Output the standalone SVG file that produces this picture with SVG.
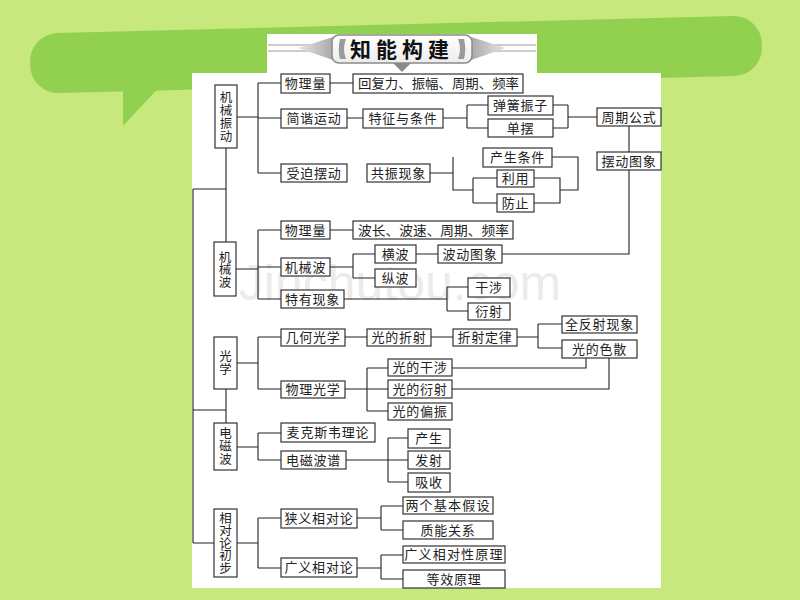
<svg xmlns="http://www.w3.org/2000/svg" width="800" height="600" viewBox="0 0 800 600">
<style>
.b{fill:#fff;stroke:#333;stroke-width:1.2}
.t{font-family:"Noto Sans CJK SC","Noto Sans",sans-serif;font-size:13px;fill:#222;text-anchor:middle;letter-spacing:0.8px}
.w{font-family:"Noto Sans CJK SC","Noto Sans",sans-serif;font-size:13px;fill:#222}
.v{font-family:"Noto Sans CJK SC","Noto Sans",sans-serif;font-size:12.5px;fill:#222;text-anchor:middle}
.c{fill:none;stroke:#222;stroke-width:1.1}
</style>
<defs>
<linearGradient id="wl" x1="0" x2="1" y1="0" y2="0"><stop offset="0" stop-color="#e6e6e6"/><stop offset="1" stop-color="#a9a9a9"/></linearGradient>
<linearGradient id="wr" x1="1" x2="0" y1="0" y2="0"><stop offset="0" stop-color="#e6e6e6"/><stop offset="1" stop-color="#a9a9a9"/></linearGradient>
<linearGradient id="tb" x1="0" x2="0" y1="0" y2="1"><stop offset="0" stop-color="#ffffff"/><stop offset="1" stop-color="#ececec"/></linearGradient>
</defs>
<rect width="800" height="600" fill="#c6e87c"/>
<g id="bubble">
<rect x="30" y="24.5" width="732" height="60" rx="28" fill="#92d050" transform="rotate(-1.45 396 54.5)"/>
<polygon points="123,84 123,126 162,84" fill="#92d050"/>
</g>
<path d="M267,34 H537 V73 H661 V588 H192 V73 H267 Z" fill="#fff"/>
<text x="400" y="300" font-family="Liberation Sans, Arial, sans-serif" font-size="50" fill="#ebebeb" text-anchor="middle">Jinchutou.com</text>
<g id="title">
<line x1="268" y1="45" x2="332" y2="45" stroke="#9a9a9a" stroke-width="1"/>
<line x1="268" y1="51" x2="332" y2="51" stroke="#9a9a9a" stroke-width="1"/>
<line x1="472" y1="45" x2="536" y2="45" stroke="#9a9a9a" stroke-width="1"/>
<line x1="472" y1="51" x2="536" y2="51" stroke="#9a9a9a" stroke-width="1"/>
<polygon points="298,48 333,37 333,60" fill="url(#wl)"/>
<polygon points="506,48 471,37 471,60" fill="url(#wr)"/>
<rect x="332" y="35" width="140" height="28" rx="7" fill="url(#tb)" stroke="#8a8a8a" stroke-width="1.5"/>
<path d="M346,39 H340 Q337.5,49 340,59 H346 Q342,49 346,39 Z" fill="#9a9a9a"/>
<path d="M458,39 H464 Q466.5,49 464,59 H458 Q462,49 458,39 Z" fill="#9a9a9a"/>
<polygon points="393,63 411,63 402,72" fill="#8a8a8a"/>
<text x="402" y="57" font-family="Noto Sans CJK SC, sans-serif" font-size="21" font-weight="bold" fill="#111" text-anchor="middle" letter-spacing="5">知能构建</text>
</g>
<g id="connectors" class="c">
<path d="M193,189 V543 M193,189 H226 M226,148 V242 M193,410 H226 M226,389 V423 M193,543 H214"/>
<path d="M237,117 H258 M258,83 V173 M258,83 H281 M258,118 H281 M258,173 H281 M330,83 H353 M347,118 H363 M443,118 H467 M467,105 V128 M467,105 H488 M467,128 H488 M553,105 H568 M553,128 H568 M568,105 V128 M568,117 H597 M629,126 V152 M629,170 V254 H502 M430,173 H453 M453,157 V190 H473 M473,178 V203 M473,178 H497 M473,203 H497 M552,157 H578 V190 H560 M534,178 H560 V203 H534"/>
<path d="M236,269 H258 M258,230 V299 M258,230 H281 M258,267 H281 M258,299 H281 M330,230 H353 M330,267 H353 M353,254 V278 M353,254 H375 M353,278 H375 M416,254 H438 M344,299 H447 M447,287 V311 M447,287 H468 M447,311 H468"/>
<path d="M237,363 H258 M258,337 V389 M258,337 H281 M258,389 H281 M345,337 H367 M431,337 H453 M517,337 H538 M538,324 V348 M538,324 H562 M538,348 H562 M345,389 H388 M367,368 V411 M367,368 H388 M367,411 H388 M452,368 H586 V358 M452,389 H609 V358"/>
<path d="M237,447 H258 M258,433 V460 M258,433 H281 M258,460 H281 M346,460 H408 M388,438 V482 M388,438 H408 M388,482 H408"/>
<path d="M237,543 H258 M258,518 V568 M258,518 H281 M258,568 H281 M357,518 H381 M381,506 V530 M381,506 H403 M381,530 H403 M357,568 H381 M381,555 V579 M381,555 H403 M381,579 H403"/>
</g>
<g id="n-jixiezhendong"><rect class="b" x="215" y="85" width="22" height="63"/><text class="v" x="226"><tspan x="226" y="101.5">机</tspan><tspan x="226" y="114.5">械</tspan><tspan x="226" y="127.5">振</tspan><tspan x="226" y="140.5">动</tspan></text></g>
<g id="n-wuliliang1"><rect class="b" x="281" y="74" width="49" height="19"/><text class="t" x="305.5" y="88">物理量</text></g>
<g id="n-huifuli"><rect class="b" x="353" y="74" width="170" height="19"/><text class="w" x="358" y="88" textLength="161" lengthAdjust="spacingAndGlyphs">回复力、振幅、周期、频率</text></g>
<g id="n-jianxie"><rect class="b" x="281" y="109" width="66" height="19"/><text class="t" x="314" y="123">简谐运动</text></g>
<g id="n-tezheng"><rect class="b" x="363" y="109" width="80" height="19"/><text class="t" x="403" y="123">特征与条件</text></g>
<g id="n-tanhuang"><rect class="b" x="488" y="96" width="65" height="19"/><text class="t" x="520.5" y="110">弹簧振子</text></g>
<g id="n-danbai"><rect class="b" x="488" y="119" width="65" height="18"/><text class="t" x="520.5" y="132.5">单摆</text></g>
<g id="n-zhouqi"><rect class="b" x="597" y="108" width="64" height="18"/><text class="t" x="629" y="121.5">周期公式</text></g>
<g id="n-baidong"><rect class="b" x="597" y="152" width="64" height="18"/><text class="t" x="629" y="165.5">摆动图象</text></g>
<g id="n-shoupo"><rect class="b" x="281" y="164" width="66" height="18"/><text class="t" x="314" y="177.5">受迫摆动</text></g>
<g id="n-gongzhen"><rect class="b" x="367" y="164" width="63" height="18"/><text class="t" x="398.5" y="177.5">共振现象</text></g>
<g id="n-chansheng1"><rect class="b" x="483" y="148" width="69" height="19"/><text class="t" x="517.5" y="162">产生条件</text></g>
<g id="n-liyong"><rect class="b" x="497" y="170" width="37" height="17"/><text class="t" x="515.5" y="183">利用</text></g>
<g id="n-fangzhi"><rect class="b" x="497" y="194" width="37" height="18"/><text class="t" x="515.5" y="207.5">防止</text></g>
<g id="n-jixiebo"><rect class="b" x="214" y="242" width="22" height="54"/><text class="v" x="225"><tspan x="225" y="261.5">机</tspan><tspan x="225" y="274">械</tspan><tspan x="225" y="286.5">波</tspan></text></g>
<g id="n-wuliliang2"><rect class="b" x="281" y="221" width="49" height="18"/><text class="t" x="305.5" y="234.5">物理量</text></g>
<g id="n-bochang"><rect class="b" x="353" y="221" width="160" height="18"/><text class="w" x="358" y="234.5" textLength="151" lengthAdjust="spacingAndGlyphs">波长、波速、周期、频率</text></g>
<g id="n-jixiebo2"><rect class="b" x="281" y="258" width="49" height="18"/><text class="t" x="305.5" y="271.5">机械波</text></g>
<g id="n-hengbo"><rect class="b" x="375" y="245" width="41" height="18"/><text class="t" x="395.5" y="258.5">横波</text></g>
<g id="n-zongbo"><rect class="b" x="375" y="269" width="41" height="18"/><text class="t" x="395.5" y="282.5">纵波</text></g>
<g id="n-bodong"><rect class="b" x="438" y="245" width="64" height="18"/><text class="t" x="470" y="258.5">波动图象</text></g>
<g id="n-teyou"><rect class="b" x="281" y="290" width="63" height="18"/><text class="t" x="312.5" y="303.5">特有现象</text></g>
<g id="n-ganshe"><rect class="b" x="468" y="278" width="42" height="19"/><text class="t" x="489" y="292">干涉</text></g>
<g id="n-yanshe"><rect class="b" x="468" y="303" width="42" height="17"/><text class="t" x="489" y="316">衍射</text></g>
<g id="n-guangxue"><rect class="b" x="214" y="337" width="23" height="52"/><text class="v" x="225.5"><tspan x="225.5" y="361">光</tspan><tspan x="225.5" y="374">学</tspan></text></g>
<g id="n-jihe"><rect class="b" x="281" y="329" width="64" height="17"/><text class="t" x="313" y="342">几何光学</text></g>
<g id="n-zheshe"><rect class="b" x="367" y="329" width="64" height="17"/><text class="t" x="399" y="342">光的折射</text></g>
<g id="n-dinglv"><rect class="b" x="453" y="329" width="64" height="17"/><text class="t" x="485" y="342">折射定律</text></g>
<g id="n-quanfanshe"><rect class="b" x="562" y="316" width="75" height="17"/><text class="t" x="599.5" y="329">全反射现象</text></g>
<g id="n-sesan"><rect class="b" x="562" y="340" width="75" height="18"/><text class="t" x="599.5" y="353.5">光的色散</text></g>
<g id="n-wuliguang"><rect class="b" x="281" y="381" width="64" height="17"/><text class="t" x="313" y="394">物理光学</text></g>
<g id="n-gganshe"><rect class="b" x="388" y="359" width="64" height="17"/><text class="t" x="420" y="372">光的干涉</text></g>
<g id="n-gyanshe"><rect class="b" x="388" y="380" width="64" height="18"/><text class="t" x="420" y="393.5">光的衍射</text></g>
<g id="n-pianzhen"><rect class="b" x="388" y="403" width="64" height="17"/><text class="t" x="420" y="416">光的偏振</text></g>
<g id="n-dianci"><rect class="b" x="214" y="423" width="23" height="47"/><text class="v" x="225.5"><tspan x="225.5" y="438">电</tspan><tspan x="225.5" y="451">磁</tspan><tspan x="225.5" y="464">波</tspan></text></g>
<g id="n-maikesi"><rect class="b" x="281" y="423" width="94" height="19"/><text class="t" x="328" y="437">麦克斯韦理论</text></g>
<g id="n-pu"><rect class="b" x="281" y="451" width="65" height="18"/><text class="t" x="313.5" y="464.5">电磁波谱</text></g>
<g id="n-chansheng2"><rect class="b" x="408" y="429" width="42" height="19"/><text class="t" x="429" y="443">产生</text></g>
<g id="n-fashe"><rect class="b" x="408" y="451" width="42" height="18"/><text class="t" x="429" y="464.5">发射</text></g>
<g id="n-xishou"><rect class="b" x="408" y="473" width="42" height="19"/><text class="t" x="429" y="487">吸收</text></g>
<g id="n-xiangdui"><rect class="b" x="214" y="509" width="23" height="68"/><text class="v" x="225.5"><tspan x="225.5" y="522.5">相</tspan><tspan x="225.5" y="535">对</tspan><tspan x="225.5" y="547.5">论</tspan><tspan x="225.5" y="560">初</tspan><tspan x="225.5" y="572.5">步</tspan></text></g>
<g id="n-xiayi"><rect class="b" x="281" y="509" width="76" height="19"/><text class="t" x="319" y="523">狭义相对论</text></g>
<g id="n-guangyi"><rect class="b" x="281" y="558" width="76" height="19"/><text class="t" x="319" y="572">广义相对论</text></g>
<g id="n-jiashe"><rect class="b" x="403" y="497" width="90" height="17"/><text class="t" x="448" y="510" style="letter-spacing:1.2px">两个基本假设</text></g>
<g id="n-zhineng"><rect class="b" x="403" y="521" width="90" height="18"/><text class="t" x="448" y="534.5">质能关系</text></g>
<g id="n-yuanli"><rect class="b" x="403" y="546" width="102" height="17"/><text class="t" x="454" y="559" style="letter-spacing:1.2px">广义相对性原理</text></g>
<g id="n-dengxiao"><rect class="b" x="403" y="570" width="102" height="18"/><text class="t" x="454" y="583.5">等效原理</text></g>
</svg>
